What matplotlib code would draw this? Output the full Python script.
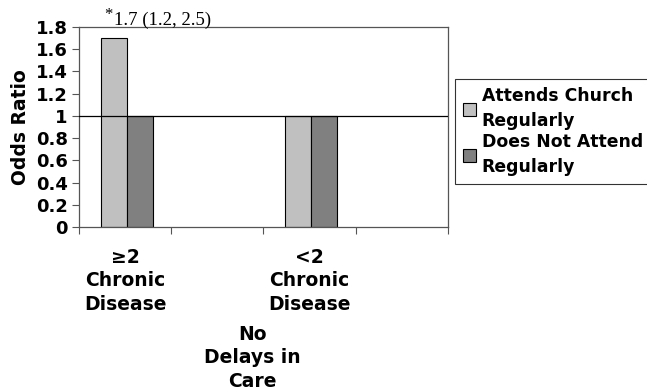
import numpy as np
import matplotlib
matplotlib.use('Agg')
import matplotlib.pyplot as plt

# data
categories = ['\u22652\nChronic\nDisease', '', '<2\nChronic\nDisease', '']
attends = [1.7, np.nan, 1.0, np.nan]
not_attends = [1.0, np.nan, 1.0, np.nan]
series_names = ['Attends Church\nRegularly', 'Does Not Attend\nRegularly']
group_label = 'No\nDelays in\nCare'
yticks = [0, 0.2, 0.4, 0.6, 0.8, 1, 1.2, 1.4, 1.6, 1.8]
note_star = '*'
note_text = '1.7 (1.2, 2.5)'

plt.rcParams['font.family'] = ['DejaVu Sans']
plt.rcParams['font.weight'] = 'bold'

fig = plt.figure(figsize=(6.47, 3.92), dpi=100)
ax = fig.add_axes([0.122, 0.421, 0.570, 0.510])

x = np.arange(len(categories))
w = 0.28
ax.bar(x - w / 2 + 0.02, attends, width=w, color='#c0c0c0', edgecolor='black',
       linewidth=0.8, label=series_names[0], zorder=2)
ax.bar(x + w / 2 + 0.02, not_attends, width=w, color='#808080', edgecolor='black',
       linewidth=0.8, label=series_names[1], zorder=2)

# reference line at odds ratio 1
ax.axhline(1, color='black', linewidth=0.9, zorder=3)

ax.set_xlim(-0.5, len(categories) - 0.5)
ax.set_ylim(0, 1.8)
ax.set_yticks(yticks)
ax.set_yticklabels(['%g' % v for v in yticks], fontsize=13, fontweight='bold')
ax.set_ylabel('Odds Ratio', fontsize=13.5, fontweight='bold', labelpad=4)

# major ticks on category boundaries, labels on centers
ax.set_xticks(np.arange(-0.5, len(categories)))
ax.set_xticklabels([])
ax.set_xticks(x, minor=True)
ax.set_xticklabels(categories, minor=True, fontsize=13.5, fontweight='bold',
                   linespacing=1.3)
ax.tick_params(axis='x', which='minor', length=0, pad=15)
ax.tick_params(axis='x', which='major', length=5, color='#555555')
ax.tick_params(axis='y', length=5, pad=3, color='#555555')

for s in ax.spines.values():
    s.set_color('#555555')
    s.set_linewidth(0.9)

# annotation above first bar
ax.text(x[0] - w + 0.05, 1.87, note_star, fontsize=12,
        family='Liberation Serif', fontweight='normal', clip_on=False)
ax.text(x[0] - w + 0.16, 1.82, note_text, fontsize=13.5,
        family='Liberation Serif', fontweight='normal', clip_on=False)

fig.text(0.39, 0.087, group_label, ha='center', va='center', fontsize=13.5,
         fontweight='bold', linespacing=1.3)

leg = fig.legend(loc='upper left', bbox_to_anchor=(0.703, 0.798),
                 fontsize=12.4, frameon=True, fancybox=False, edgecolor='black',
                 handlelength=0.8, handleheight=0.8, handletextpad=0.3,
                 borderpad=0.45, labelspacing=0.2, borderaxespad=0)
leg.get_frame().set_linewidth(0.8)
for t in leg.get_texts():
    t.set_fontweight('bold')
    t.set_linespacing(1.5)

fig.savefig('out.png', dpi=100)
